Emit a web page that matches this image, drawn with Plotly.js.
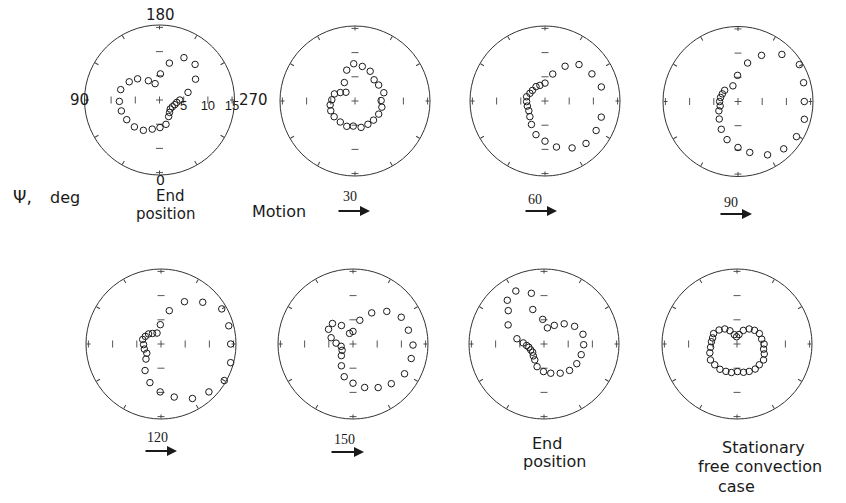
<!DOCTYPE html>
<html>
<head>
<meta charset="utf-8">
<script src="https://cdn.plot.ly/plotly-3.0.1.min.js"></script>
<style>
html, body { margin: 0; padding: 0; background: #fff; }
#chart { width: 846px; height: 503px; }
</style>
</head>
<body>
<div id="chart"></div>
<script>
// Angular position Ψ (deg) and radial distance of each recorded point, one pair of arrays per state.
const endStartR     = [5.4, 7.9, 10.1, 10.4, 8.6, 6.1, 4.2, 3.6, 3.3, 3.0, 2.9, 3.3, 3.9, 5.2, 5.7, 6.2, 7.1, 7.6, 7.9, 8.2, 8.3, 8.3, 7.3, 6.3, 4.6, 3.5];
const endStartTheta = [182, 195, 210, 225, 240, 255, 270, 278, 287, 298, 310, 321, 331, 345, 359, 14, 28, 43, 59, 74, 88, 105, 121, 134, 150, 165];

const t30R     = [7.7, 7.3, 6.9, 5.9, 5.9, 6.2, 5.4, 5.7, 5.6, 5.5, 5.5, 5.6, 5.2, 5.5, 5.3, 5.4, 5.4, 5.2, 4.8, 4.5, 3.5, 2.6, 4.4, 6.6];
const t30Theta = [178, 192, 207, 222, 236, 254, 269, 283, 299, 316, 331, 347, 4, 18, 35, 53, 68, 81, 93, 109, 120, 134, 150, 165];

const t60R     = [3.7, 5.8, 8.3, 10.3, 11.2, 12.0, 12.1, 12.2, 12.2, 11.2, 9.8, 8.3, 7.2, 5.6, 4.5, 3.9, 3.8, 3.8, 3.9, 3.5, 3.4, 3.5, 3.4];
const t60Theta = [180, 196, 210, 223, 240, 256, 286, 300, 316, 330, 346, 0, 15, 30, 44, 59, 74, 88, 103, 117, 130, 148, 162];

const t90R     = [5.4, 8.2, 10.7, 13.3, 14.8, 14.1, 13.7, 14.2, 14.1, 13.6, 12.6, 10.8, 9.5, 8.2, 6.7, 5.3, 4.4, 3.8, 3.8, 3.7, 3.6, 3.6, 3.4];
const t90Theta = [179, 194, 207, 223, 239, 254, 270, 285, 301, 316, 331, 347, 0, 16, 31, 47, 64, 76, 90, 103, 116, 130, 162];

const t120R     = [4.0, 7.1, 10.0, 12.2, 14.5, 14.5, 14.4, 14.9, 15.1, 14.0, 13.0, 11.3, 9.9, 8.3, 6.4, 4.4, 3.5, 3.6, 3.6, 3.9, 3.6, 3.3, 2.8, 2.4];
const t120Theta = [178, 194, 209, 225, 240, 255, 270, 285, 300, 315, 330, 346, 1, 16, 31, 45, 57, 73, 88, 104, 116, 129, 141, 160];

const t150R     = [2.6, 5.1, 7.5, 9.7, 11.4, 11.8, 12.4, 12.4, 12.3, 11.4, 10.4, 9.3, 8.1, 7.0, 5.1, 3.4, 2.6, 2.5, 3.5, 4.7, 5.9, 6.0, 4.5, 2.3];
const t150Theta = [180, 196, 211, 226, 241, 256, 271, 284, 300, 316, 330, 345, 0, 15, 28, 45, 60, 79, 93, 106, 121, 135, 148, 162];

const endFinalR     = [5.1, 3.4, 4.4, 5.9, 7.3, 8.3, 8.2, 8.0, 7.9, 7.6, 6.9, 6.2, 5.7, 4.9, 3.8, 3.3, 2.9, 3.0, 3.2, 3.6, 4.3, 5.7, 8.4, 10.1, 7.5, 11.8, 12.4, 10.8];
const endFinalTheta = [177, 192, 209, 225, 240, 256, 271, 286, 301, 316, 331, 347, 1, 17, 30, 42, 54, 66, 78, 85, 93, 101, 118, 133, 162, 140, 152, 166];

const stationaryR     = [1.5, 2.0, 3.1, 4.0, 4.6, 5.1, 5.2, 5.6, 5.6, 6.0, 6.4, 6.3, 6.4, 6.2, 6.0, 5.7, 6.0, 6.1, 6.3, 6.3, 6.4, 5.9, 5.5, 5.3, 5.2, 5.3, 4.7, 4.0, 3.1, 2.0];
const stationaryTheta = [177, 192, 205, 219, 232, 245, 259, 270, 281, 290, 301, 313, 324, 336, 347, 359, 11, 22, 34, 47, 59, 72, 83, 95, 104, 114, 128, 141, 152, 164];

// Axis scale
const radialMax = 15.5;
const radialTicks = [5, 10, 15];
const angleTicks = [0, 30, 60, 90, 120, 150, 180, 210, 240, 270, 300, 330];
const crossAngles = [0, 90, 180, 270];

const series = [
  [endStartR, endStartTheta],
  [t30R, t30Theta],
  [t60R, t60Theta],
  [t90R, t90Theta],
  [t120R, t120Theta],
  [t150R, t150Theta],
  [endFinalR, endFinalTheta],
  [stationaryR, stationaryTheta]
];

// Page geometry (pixels): centre of each polar frame and its radius
const W = 846, H = 503, R = 75;
const centres = [[159.5, 100], [355, 101], [545, 101], [738, 101.5],
                 [161, 344], [353, 344], [544, 344], [737, 344]];

const ink = '#1a1a1a';
const sans = 'DejaVu Sans, sans-serif';
const serif = 'Liberation Serif, serif';
const traces = [];
const layout = {
  width: W, height: H,
  margin: {l: 0, r: 0, t: 0, b: 0},
  paper_bgcolor: '#fff', plot_bgcolor: '#fff',
  showlegend: false,
  font: {family: sans, color: ink},
  annotations: []
};

series.forEach(([r, th], i) => {
  const key = i === 0 ? 'polar' : 'polar' + (i + 1);
  const [cx, cy] = centres[i];
  layout[key] = {
    domain: {x: [(cx - R) / W, (cx + R) / W], y: [1 - (cy + R) / H, 1 - (cy - R) / H]},
    bgcolor: 'rgba(0,0,0,0)',
    radialaxis: {range: [0, radialMax], showline: false, showgrid: false, ticks: '',
                 showticklabels: false},
    angularaxis: {
      rotation: -90, direction: 'clockwise',
      tickmode: 'array', tickvals: angleTicks,
      ticks: 'inside', ticklen: 4, tickwidth: 1, tickcolor: '#444',
      showline: true, linecolor: '#333', linewidth: 1, showgrid: false,
      showticklabels: false
    }
  };

  // small marks along the four cardinal directions and the centre cross
  const mr = [], mt = [], ms = [];
  crossAngles.forEach(a => radialTicks.forEach(v => {
    mr.push(v); mt.push(a); ms.push(a % 180 === 0 ? 'line-ew' : 'line-ns');
  }));
  mr.push(0); mt.push(0); ms.push('cross-thin');
  traces.push({
    type: 'scatterpolar', subplot: key, mode: 'markers', r: mr, theta: mt,
    marker: {symbol: ms, size: 5, line: {width: 1, color: '#555'}, color: '#555'},
    hoverinfo: 'skip'
  });

  traces.push({
    type: 'scatterpolar', subplot: key, mode: 'markers', r: r, theta: th,
    marker: {symbol: 'circle-open', size: 6.5, color: ink, line: {width: 1, color: ink}}
  });

  if (i === 0) {
    traces.push({
      type: 'scatterpolar', subplot: key, mode: 'text',
      r: radialTicks, theta: radialTicks.map(() => 270),
      text: radialTicks.map(String), textposition: 'bottom center',
      textfont: {family: 'Liberation Sans, sans-serif', size: 13, color: ink},
      hoverinfo: 'skip'
    });
  }
});

const px = x => x / W, py = y => 1 - y / H;
function label(text, x, y, size, family) {
  layout.annotations.push({
    text: text, x: px(x), y: py(y), xref: 'paper', yref: 'paper',
    showarrow: false, xanchor: 'center', yanchor: 'middle',
    font: {family: family || sans, size: size || 16, color: ink}
  });
}
function arrow(x0, x1, y) {
  layout.annotations.push({
    text: '', x: px(x1), y: py(y), xref: 'paper', yref: 'paper',
    ax: x0 - x1, ay: 0, showarrow: true, arrowhead: 2, arrowsize: 1,
    arrowwidth: 2, arrowcolor: ink
  });
}

// Ψ labels of the first frame (0 at the bottom, increasing clockwise)
label('180', 160, 15, 15);
label('90', 79, 100, 15);
label('270', 253, 100, 15);
label('0', 160, 180, 14);

label('Ψ,', 22, 197, 17);
label('deg', 65, 197, 16);
label('End', 170, 196, 15);
label('position', 165, 214, 15);
label('Motion', 279, 211, 16);
label('30', 350, 196, 14, serif);  arrow(337, 370, 211);
label('60', 535, 200, 14, serif);  arrow(524, 557, 211);
label('90', 731, 202, 14, serif);  arrow(719, 752, 214);
label('120', 157, 437, 14, serif); arrow(144, 177, 451);
label('150', 344, 439, 14, serif); arrow(330, 364, 452);
label('End', 547, 443, 16);
label('position', 554, 461, 16);
label('Stationary', 763, 447, 16);
label('free convection', 760, 466, 16);
label('case', 736, 486, 16);

Plotly.newPlot('chart', traces, layout, {staticPlot: true});
</script>
</body>
</html>
